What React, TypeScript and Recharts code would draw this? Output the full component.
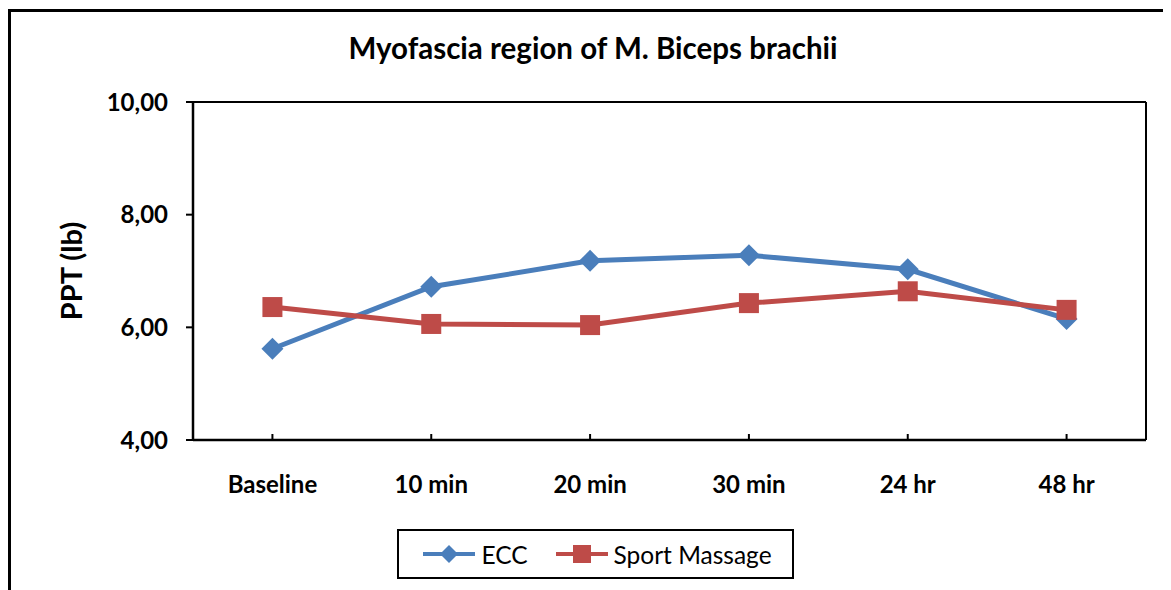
import React from "react";
import { LineChart, Line, XAxis, YAxis, CartesianGrid } from "recharts";

const categories = ["Baseline", "10 min", "20 min", "30 min", "24 hr", "48 hr"];
const eccValues = [5.62, 6.72, 7.18, 7.28, 7.03, 6.15];
const massageValues = [6.36, 6.06, 6.04, 6.43, 6.64, 6.31];
const yTicks = [4, 6, 8, 10];

const BLUE = "#4a7ebb";
const RED = "#be4b48";
const FONT = "Lato, 'Open Sans', sans-serif";

const data = categories.map((name, i) => ({
  name,
  ecc: eccValues[i],
  massage: massageValues[i],
}));

const fmt = (v: number) => v.toFixed(2).replace(".", ",");

function Diamond(props: any) {
  const { cx, cy } = props;
  if (cx == null || cy == null) return null;
  const r = 11;
  return (
    <polygon
      points={`${cx},${cy - r} ${cx + r},${cy} ${cx},${cy + r} ${cx - r},${cy}`}
      fill={BLUE}
    />
  );
}

function Square(props: any) {
  const { cx, cy } = props;
  if (cx == null || cy == null) return null;
  const s = 10;
  return <rect x={cx - s} y={cy - s} width={s * 2} height={s * 2} fill={RED} />;
}

const X_MARGIN = 43;

function XTick(props: any) {
  const { x, y, payload } = props;
  const axisY = y - X_MARGIN;
  return (
    <g>
      <line x1={x} x2={x} y1={axisY} y2={axisY - 6} stroke="#000" strokeWidth={2} />
      <text
        x={x}
        y={y}
        textAnchor="middle"
        dominantBaseline="central"
        fontFamily={FONT}
        fontWeight="bold"
        fontSize={24}
        fill="#000"
      >
        {payload.value}
      </text>
    </g>
  );
}

function LegendItem({ color, label, marker }: { color: string; label: string; marker: "diamond" | "square" }) {
  return (
    <div style={{ display: "flex", alignItems: "center" }}>
      <svg width={56} height={24}>
        <line x1={2} x2={54} y1={12} y2={12} stroke={color} strokeWidth={4} />
        {marker === "diamond" ? (
          <polygon points="28,3 37,12 28,21 19,12" fill={color} />
        ) : (
          <rect x={19} y={3} width={18} height={18} fill={color} />
        )}
      </svg>
      <span style={{ fontSize: 24.5, marginLeft: 4 }}>{label}</span>
    </div>
  );
}

export default function App() {
  return (
    <div
      style={{
        position: "relative",
        width: 1163,
        height: 582,
        overflow: "hidden",
        fontFamily: FONT,
        background: "#fff",
      }}
    >
      <div
        style={{
          position: "absolute",
          left: 0,
          top: 1,
          width: 2000,
          height: 2000,
          borderTop: "3px solid #000",
          borderLeft: "3px solid #000",
        }}
      />
      <div
        style={{
          position: "absolute",
          left: 0,
          width: 1170,
          top: 22,
          textAlign: "center",
          fontWeight: "bold",
          fontSize: 29.5,
        }}
      >
        Myofascia region of M. Biceps brachii
      </div>
      <div style={{ position: "absolute", left: 0, top: 0 }}>
        <LineChart
          width={1163}
          height={582}
          data={data}
          margin={{ top: 94, right: 25, bottom: 90, left: 0 }}
        >
          <CartesianGrid
            stroke="#000"
            strokeWidth={2}
            horizontalCoordinatesGenerator={({ offset }: any) => [offset.top]}
            verticalCoordinatesGenerator={({ offset }: any) => [offset.left + offset.width]}
          />
          <XAxis
            dataKey="name"
            scale="band"
            interval={0}
            tickSize={0}
            tickMargin={X_MARGIN}
            height={60}
            axisLine={{ stroke: "#000", strokeWidth: 2.5 }}
            tickLine={false}
            tick={<XTick />}
          />
          <YAxis
            domain={[4, 10]}
            ticks={yTicks}
            width={185}
            tickSize={7}
            tickMargin={18}
            tickFormatter={fmt}
            axisLine={{ stroke: "#000", strokeWidth: 2.5 }}
            tickLine={{ stroke: "#000", strokeWidth: 2 }}
            tick={{ fill: "#000", fontSize: 24, fontWeight: "bold", fontFamily: FONT }}
            label={{
              content: ({ viewBox }: any) => {
                const cx = 62;
                const cy = viewBox.y + viewBox.height / 2;
                return (
                  <text
                    x={cx}
                    y={cy}
                    transform={`rotate(-90 ${cx} ${cy})`}
                    textAnchor="middle"
                    dominantBaseline="central"
                    fontFamily={FONT}
                    fontWeight="bold"
                    fontSize={29}
                    fill="#000"
                  >
                    PPT (lb)
                  </text>
                );
              },
            }}
          />
          <Line
            type="linear"
            dataKey="ecc"
            name="ECC"
            stroke={BLUE}
            strokeWidth={5}
            dot={<Diamond />}
            activeDot={false}
            isAnimationActive={false}
          />
          <Line
            type="linear"
            dataKey="massage"
            name="Sport Massage"
            stroke={RED}
            strokeWidth={5}
            dot={<Square />}
            activeDot={false}
            isAnimationActive={false}
          />
        </LineChart>
      </div>
      <div
        style={{
          position: "absolute",
          left: 389,
          top: 521,
          width: 391,
          height: 46,
          border: "2px solid #000",
          display: "flex",
          alignItems: "center",
          justifyContent: "center",
          gap: 26,
          paddingLeft: 2,
          boxSizing: "content-box",
        }}
      >
        <LegendItem color={BLUE} label="ECC" marker="diamond" />
        <LegendItem color={RED} label="Sport Massage" marker="square" />
      </div>
    </div>
  );
}
